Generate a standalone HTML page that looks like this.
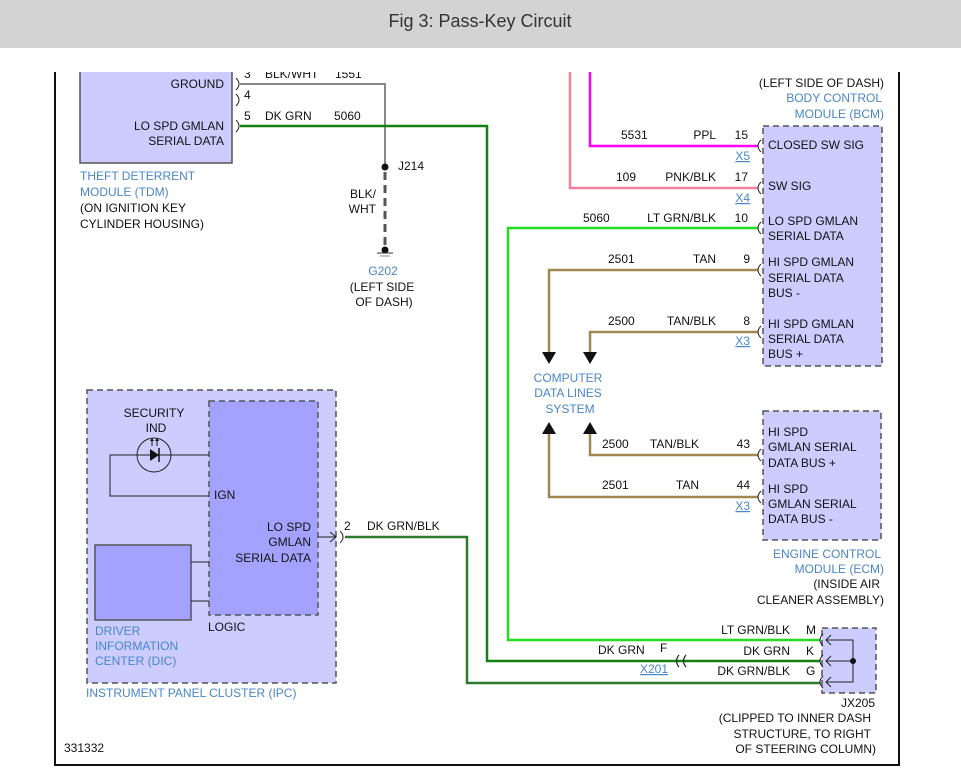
<!DOCTYPE html>
<html><head><meta charset="utf-8"><style>
html,body{margin:0;padding:0;background:#fff;}
svg{display:block;}
text{font-family:"Liberation Sans",Arial,sans-serif;font-size:12px;fill:#111;}
.b{fill:#4a86c8;}
.u{fill:#4a86c8;text-decoration:underline;}
</style></head><body>
<svg width="961" height="779" viewBox="0 0 961 779" xmlns="http://www.w3.org/2000/svg">
<rect x="0" y="0" width="961" height="48" fill="#d3d3d3"/>

<!-- frame -->
<line x1="55" y1="72" x2="55" y2="766" stroke="#111" stroke-width="2"/>
<line x1="899" y1="72" x2="899" y2="766" stroke="#111" stroke-width="2"/>
<line x1="54" y1="765" x2="900" y2="765" stroke="#111" stroke-width="2"/>

<!-- TDM -->
<rect x="80" y="70" width="152" height="93" fill="#ccccff" stroke="#555" stroke-width="1.5"/>
<text x="224" y="88" text-anchor="end">GROUND</text>
<text x="224" y="130" text-anchor="end">LO SPD GMLAN</text>
<text x="224" y="145" text-anchor="end">SERIAL DATA</text>
<text x="80" y="180" class="b">THEFT DETERRENT</text>
<text x="80" y="196" class="b">MODULE (TDM)</text>
<text x="80" y="212">(ON IGNITION KEY</text>
<text x="80" y="228">CYLINDER HOUSING)</text>
<g fill="none" stroke="#222" stroke-width="1">
<path d="M236,78 q6,6 0,12"/><path d="M236,94 q6,6 0,12"/><path d="M236,120 q6,6 0,12"/>
</g>
<text x="244" y="78">3</text><text x="265" y="78">BLK/WHT</text><text x="335" y="78">1551</text>
<text x="244" y="99">4</text>
<text x="244" y="120">5</text><text x="265" y="120">DK GRN</text><text x="334" y="120">5060</text>
<rect x="0" y="48" width="961" height="24" fill="#fff"/>
<text x="480" y="27" text-anchor="middle" style="font-size:18px;fill:#333">Fig 3: Pass-Key Circuit</text>
<path d="M240,84 H385 V167" fill="none" stroke="#888" stroke-width="2"/>
<circle cx="385" cy="167" r="3.5" fill="#111"/>
<text x="398" y="170">J214</text>
<line x1="385" y1="172" x2="385" y2="246" stroke="#555" stroke-width="3" stroke-dasharray="8,5"/>
<text x="376" y="198" text-anchor="end">BLK/</text>
<text x="376" y="213" text-anchor="end">WHT</text>
<circle cx="385" cy="250" r="3.5" fill="#111"/>
<line x1="377" y1="253" x2="393" y2="253" stroke="#333"/>
<line x1="380" y1="256" x2="390" y2="256" stroke="#888"/>
<text x="383" y="275" class="b" text-anchor="middle">G202</text>
<text x="382" y="291" text-anchor="middle">(LEFT SIDE</text>
<text x="384" y="306" text-anchor="middle">OF DASH)</text>

<!-- wires -->
<path d="M240,126 H487 V661 H820" fill="none" stroke="#128012" stroke-width="2.5"/>
<path d="M570,72 V188 H758" fill="none" stroke="#f080a0" stroke-width="2.5"/>
<path d="M590,72 V146 H758" fill="none" stroke="#ff00ff" stroke-width="2.5"/>
<path d="M758,228 H508 V640 H820" fill="none" stroke="#22dd22" stroke-width="2.5"/>
<path d="M758,270 H549 V355" fill="none" stroke="#a08850" stroke-width="2.5"/>
<path d="M758,332 H590 V355" fill="none" stroke="#a08850" stroke-width="2.5"/>
<path d="M758,455 H590 V432" fill="none" stroke="#a08850" stroke-width="2.5"/>
<path d="M758,497 H549 V432" fill="none" stroke="#a08850" stroke-width="2.5"/>
<path d="M345,537 H467 V683 H820" fill="none" stroke="#2d7a2d" stroke-width="2.5"/>
<path d="M542,352 h14 l-7,12 z M583,352 h14 l-7,12 z" fill="#111"/>
<path d="M542,434 h14 l-7,-12 z M583,434 h14 l-7,-12 z" fill="#111"/>
<text x="568" y="382" class="b" text-anchor="middle">COMPUTER</text>
<text x="568" y="397" class="b" text-anchor="middle">DATA LINES</text>
<text x="570" y="413" class="b" text-anchor="middle">SYSTEM</text>

<!-- BCM -->
<text x="884" y="87" text-anchor="end">(LEFT SIDE OF DASH)</text>
<text x="882" y="102" class="b" text-anchor="end">BODY CONTROL</text>
<text x="884" y="118" class="b" text-anchor="end">MODULE (BCM)</text>
<rect x="763" y="126" width="119" height="240" fill="#ccccff" stroke="#555" stroke-width="1.5" stroke-dasharray="6,4"/>
<g fill="none" stroke="#222" stroke-width="1">
<path d="M761,140 q-6,6 0,12"/><path d="M761,182 q-6,6 0,12"/><path d="M761,222 q-6,6 0,12"/><path d="M761,264 q-6,6 0,12"/><path d="M761,326 q-6,6 0,12"/>
<path d="M761,449 q-6,6 0,12"/><path d="M761,491 q-6,6 0,12"/>
</g>
<text x="768" y="149">CLOSED SW SIG</text>
<text x="768" y="190">SW SIG</text>
<text x="768" y="225">LO SPD GMLAN</text><text x="768" y="240">SERIAL DATA</text>
<text x="768" y="266">HI SPD GMLAN</text><text x="768" y="282">SERIAL DATA</text><text x="768" y="297">BUS -</text>
<text x="768" y="328">HI SPD GMLAN</text><text x="768" y="343">SERIAL DATA</text><text x="768" y="358">BUS +</text>
<text x="621" y="139">5531</text><text x="716" y="139" text-anchor="end">PPL</text><text x="748" y="139" text-anchor="end">15</text>
<text x="750" y="160" class="u" text-anchor="end">X5</text>
<text x="616" y="181">109</text><text x="716" y="181" text-anchor="end">PNK/BLK</text><text x="748" y="181" text-anchor="end">17</text>
<text x="750" y="202" class="u" text-anchor="end">X4</text>
<text x="583" y="222">5060</text><text x="716" y="222" text-anchor="end">LT GRN/BLK</text><text x="748" y="222" text-anchor="end">10</text>
<text x="608" y="263">2501</text><text x="716" y="263" text-anchor="end">TAN</text><text x="750" y="263" text-anchor="end">9</text>
<text x="608" y="325">2500</text><text x="716" y="325" text-anchor="end">TAN/BLK</text><text x="750" y="325" text-anchor="end">8</text>
<text x="750" y="345" class="u" text-anchor="end">X3</text>

<!-- ECM -->
<rect x="763" y="411" width="118" height="129" fill="#ccccff" stroke="#555" stroke-width="1.5" stroke-dasharray="6,4"/>
<text x="768" y="436">HI SPD</text><text x="768" y="451">GMLAN SERIAL</text><text x="768" y="467">DATA BUS +</text>
<text x="768" y="493">HI SPD</text><text x="768" y="508">GMLAN SERIAL</text><text x="768" y="523">DATA BUS -</text>
<text x="602" y="448">2500</text><text x="699" y="448" text-anchor="end">TAN/BLK</text><text x="750" y="448" text-anchor="end">43</text>
<text x="602" y="489">2501</text><text x="699" y="489" text-anchor="end">TAN</text><text x="750" y="489" text-anchor="end">44</text>
<text x="750" y="510" class="u" text-anchor="end">X3</text>
<text x="881" y="558" class="b" text-anchor="end">ENGINE CONTROL</text>
<text x="884" y="573" class="b" text-anchor="end">MODULE (ECM)</text>
<text x="880" y="588" text-anchor="end">(INSIDE AIR</text>
<text x="884" y="604" text-anchor="end">CLEANER ASSEMBLY)</text>

<!-- IPC -->
<rect x="87" y="390" width="249" height="293" fill="#ccccff" stroke="#555" stroke-width="1.5" stroke-dasharray="6,4"/>
<rect x="209" y="401" width="109" height="214" fill="#a3a3ff" stroke="#555" stroke-width="1.5" stroke-dasharray="6,4"/>
<rect x="95" y="545" width="96" height="75" fill="#a3a3ff" stroke="#555" stroke-width="1.5"/>
<line x1="191" y1="562" x2="209" y2="562" stroke="#222"/>
<line x1="191" y1="601" x2="209" y2="601" stroke="#222"/>
<path d="M209,455 H110 V496 H209" fill="none" stroke="#222"/>
<circle cx="154" cy="455" r="17" fill="#ccccff" stroke="#222"/>
<line x1="137" y1="455" x2="171" y2="455" stroke="#222"/>
<path d="M150,449 v12 l9,-6 z" fill="#111"/><line x1="159" y1="448" x2="159" y2="462" stroke="#111" stroke-width="1.5"/>
<path d="M152,446 v-7 M157,446 v-7" stroke="#111"/>
<path d="M150,441 l2,-3 l2,3 z M155,441 l2,-3 l2,3 z" fill="#111"/>
<text x="154" y="417" text-anchor="middle">SECURITY</text>
<text x="156" y="432" text-anchor="middle">IND</text>
<text x="214" y="499">IGN</text>
<text x="311" y="531" text-anchor="end">LO SPD</text>
<text x="311" y="546" text-anchor="end">GMLAN</text>
<text x="311" y="562" text-anchor="end">SERIAL DATA</text>
<text x="208" y="631">LOGIC</text>
<text x="95" y="635" class="b">DRIVER</text>
<text x="95" y="650" class="b">INFORMATION</text>
<text x="95" y="665" class="b">CENTER (DIC)</text>
<text x="86" y="697" class="b">INSTRUMENT PANEL CLUSTER (IPC)</text>
<line x1="318" y1="537" x2="336" y2="537" stroke="#222"/>
<path d="M330,532 l6,5 l-6,5" fill="none" stroke="#222"/>
<path d="M340,531 q6,6 0,12" fill="none" stroke="#222"/>
<text x="344" y="530">2</text>
<text x="367" y="530">DK GRN/BLK</text>

<!-- X201 -->
<text x="598" y="654">DK GRN</text>
<text x="660" y="652">F</text>
<path d="M679,655 q-5,6 0,12 M686,655 q-5,6 0,12" fill="none" stroke="#222" stroke-width="1.2"/>
<text x="640" y="673" class="u">X201</text>
<text x="790" y="634" text-anchor="end">LT GRN/BLK</text>
<text x="790" y="655" text-anchor="end">DK GRN</text>
<text x="790" y="675" text-anchor="end">DK GRN/BLK</text>
<text x="806" y="634">M</text><text x="806" y="655">K</text><text x="806" y="675">G</text>

<!-- JX205 -->
<rect x="822" y="628" width="54" height="65" fill="#ccccff" stroke="#555" stroke-width="1.5" stroke-dasharray="6,4"/>
<path d="M826,640 H853 V682 H826 M826,661 H853" fill="none" stroke="#222"/>
<circle cx="853" cy="661" r="3" fill="#111"/>
<g fill="none" stroke="#222">
<path d="M831,635 l-5,5 l5,5 M831,656 l-5,5 l5,5 M831,677 l-5,5 l5,5"/>
<path d="M823,634 q-6,6 0,12 M823,655 q-6,6 0,12 M823,676 q-6,6 0,12"/>
</g>
<text x="875" y="707" text-anchor="end">JX205</text>
<text x="871" y="722" text-anchor="end">(CLIPPED TO INNER DASH</text>
<text x="871" y="738" text-anchor="end">STRUCTURE, TO RIGHT</text>
<text x="876" y="753" text-anchor="end">OF STEERING COLUMN)</text>

<text x="64" y="752">331332</text>
</svg>
</body></html>
